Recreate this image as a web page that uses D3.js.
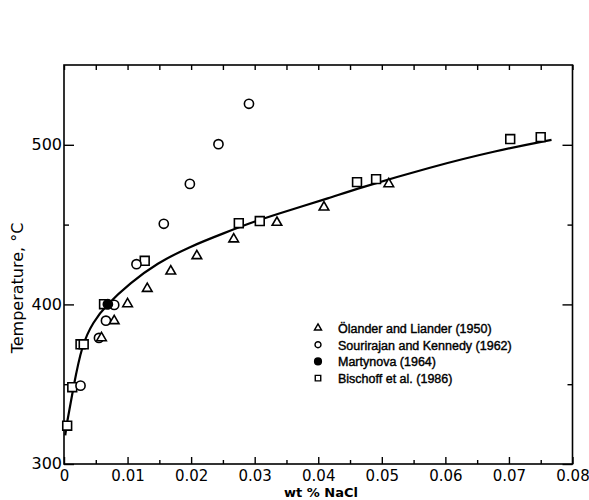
<!DOCTYPE html>
<html>
<head>
<meta charset="utf-8">
<script src="https://cdn.jsdelivr.net/npm/d3@7"></script>
<style>
  body { margin: 0; background: #fff; }
  text { font-family: "DejaVu Sans", sans-serif; fill: #000; }
</style>
</head>
<body>
<svg id="chart" width="589" height="500"></svg>
<script>
// data: [wt % NaCl, temperature °C]
var olander = [[0.0059, 379], [0.0079, 389.7], [0.0100, 400.3], [0.0131, 409.9], [0.0168, 420.8],
  [0.0209, 430.4], [0.0267, 440.9], [0.0335, 451.3], [0.0409, 460.9], [0.0511, 475.5]];
var sourirajan = [[0.0026, 349.1], [0.0055, 379], [0.0066, 389.8], [0.0079, 399.7], [0.0114, 425.2],
  [0.0157, 450.5], [0.0198, 475.5], [0.0243, 500.4], [0.0291, 525.7]];
var martynova = [[0.0069, 400.1]];
var bischoff = [[0.0005, 324], [0.0013, 348.1], [0.0026, 375], [0.0031, 375], [0.0063, 400.1],
  [0.0127, 427.3], [0.0275, 450.9], [0.0308, 452.2], [0.0461, 476.6], [0.0491, 478.5],
  [0.0702, 503.6], [0.0750, 504.8]];
var fitCurve = [[0.0002, 318], [0.0004, 324.5], [0.0015, 348.5], [0.0028, 374.6], [0.0046, 389.2],
  [0.0067, 399.7], [0.0104, 413.3], [0.0146, 425.8], [0.0198, 436.2], [0.0251, 444.6],
  [0.0303, 452.5], [0.0356, 459.2], [0.0418, 466.7], [0.0461, 472.5], [0.0576, 486],
  [0.0681, 496.4], [0.0767, 503.1]];
var xTicks = [0, 0.01, 0.02, 0.03, 0.04, 0.05, 0.06, 0.07, 0.08];
var xTickLabels = ["0", "0.01", "0.02", "0.03", "0.04", "0.05", "0.06", "0.07", "0.08"];
var yTicks = [300, 400, 500];
var legendNames = ["Ölander and Liander (1950)", "Sourirajan and Kennedy (1962)", "Martynova (1964)", "Bischoff et al. (1986)"];

var svg = d3.select("#chart");
var plotL = 64, plotR = 572.5, plotT = 65, plotB = 464;

var x = d3.scaleLinear().domain([0, 0.08]).range([plotL, plotR]);
var y = d3.scaleLinear().domain([300, 550]).range([plotB, plotT]);

var g = svg.append("g");

// frame
g.append("rect")
  .attr("x", plotL).attr("y", plotT)
  .attr("width", plotR - plotL).attr("height", plotB - plotT)
  .attr("fill", "none").attr("stroke", "#000").attr("stroke-width", 1.6);

// ticks pointing inward on all four sides
var xMinor = d3.range(0.005, 0.08, 0.01);
g.append("g").attr("transform", "translate(0," + plotB + ")")
  .call(d3.axisBottom(x).tickValues(xTicks).tickSize(-7).tickFormat(function(d, i) { return xTickLabels[i]; }))
  .call(function(a) {
    a.select(".domain").remove();
    a.selectAll("text").attr("dy", null).attr("y", 17).style("font-size", "15px");
  });
g.append("g").attr("transform", "translate(0," + plotB + ")")
  .call(d3.axisBottom(x).tickValues(xMinor).tickSize(-4).tickFormat(""))
  .call(function(a) { a.select(".domain").remove(); });
g.append("g").attr("transform", "translate(0," + plotT + ")")
  .call(d3.axisTop(x).tickValues(xTicks.concat(xMinor)).tickSize(-5).tickFormat(""))
  .call(function(a) { a.select(".domain").remove(); });

g.append("g").attr("transform", "translate(" + plotL + ",0)")
  .call(d3.axisLeft(y).tickValues(yTicks).tickSize(-10).tickPadding(2))
  .call(function(a) {
    a.select(".domain").remove();
    a.selectAll("text").attr("x", -2).attr("dy", "0.3em").style("font-size", "16px");
  });
g.append("g").attr("transform", "translate(" + plotL + ",0)")
  .call(d3.axisLeft(y).tickValues([350, 450]).tickSize(-5).tickFormat(""))
  .call(function(a) { a.select(".domain").remove(); });
g.append("g").attr("transform", "translate(" + plotR + ",0)")
  .call(d3.axisRight(y).tickValues(yTicks).tickSize(-10).tickFormat(""))
  .call(function(a) { a.select(".domain").remove(); });
g.append("g").attr("transform", "translate(" + plotR + ",0)")
  .call(d3.axisRight(y).tickValues([350, 450]).tickSize(-5).tickFormat(""))
  .call(function(a) { a.select(".domain").remove(); });

g.selectAll(".tick line").attr("stroke", "#000").attr("stroke-width", 1.4);

// axis titles
svg.append("text")
  .attr("x", 321).attr("y", 497)
  .attr("text-anchor", "middle")
  .style("font-size", "13px").style("font-weight", "bold")
  .text("wt % NaCl");
svg.append("text")
  .attr("transform", "translate(23,288) rotate(-90)")
  .attr("text-anchor", "middle")
  .style("font-size", "16px")
  .text("Temperature, °C");

// fitted curve
var line = d3.line()
  .x(function(d) { return x(d[0]); })
  .y(function(d) { return y(d[1]); })
  .curve(d3.curveBasis);
g.append("path").datum(fitCurve)
  .attr("d", line).attr("fill", "none")
  .attr("stroke", "#000").attr("stroke-width", 2.2);

// markers
function drawMarkers(data, kind) {
  var sel = g.append("g").selectAll("path").data(data).enter().append("path")
    .attr("transform", function(d) { return "translate(" + x(d[0]) + "," + y(d[1]) + ")"; })
    .attr("stroke", "#000").attr("stroke-width", 1.6);
  if (kind === "tri") sel.attr("d", d3.symbol().type(d3.symbolTriangle).size(40)).attr("fill", "#fff");
  if (kind === "circle") sel.attr("d", d3.symbol().type(d3.symbolCircle).size(66)).attr("fill", "#fff");
  if (kind === "dot") sel.attr("d", d3.symbol().type(d3.symbolCircle).size(66)).attr("fill", "#000");
  if (kind === "square") sel.attr("d", d3.symbol().type(d3.symbolSquare).size(78)).attr("fill", "#fff");
}
drawMarkers(bischoff, "square");
drawMarkers(sourirajan, "circle");
drawMarkers(olander, "tri");
drawMarkers(martynova, "dot");

// legend
var kinds = ["tri", "circle", "dot", "square"];
var legend = svg.append("g");
kinds.forEach(function(k, i) {
  var yy = 328 + i * 16.7;
  var sym = legend.append("path")
    .attr("transform", "translate(318," + yy + ")")
    .attr("stroke", "#000").attr("stroke-width", 1.4);
  if (k === "tri") sym.attr("d", d3.symbol().type(d3.symbolTriangle).size(22)).attr("fill", "#fff");
  if (k === "circle") sym.attr("d", d3.symbol().type(d3.symbolCircle).size(28)).attr("fill", "#fff");
  if (k === "dot") sym.attr("d", d3.symbol().type(d3.symbolCircle).size(36)).attr("fill", "#000");
  if (k === "square") sym.attr("d", d3.symbol().type(d3.symbolSquare).size(30)).attr("fill", "#fff");
  legend.append("text")
    .attr("x", 338).attr("y", yy + 5)
    .style("font-family", "'Liberation Sans', Arial, sans-serif")
    .style("font-size", "12.5px")
    .attr("stroke", "#000").attr("stroke-width", 0.4)
    .text(legendNames[i]);
});
</script>
</body>
</html>
